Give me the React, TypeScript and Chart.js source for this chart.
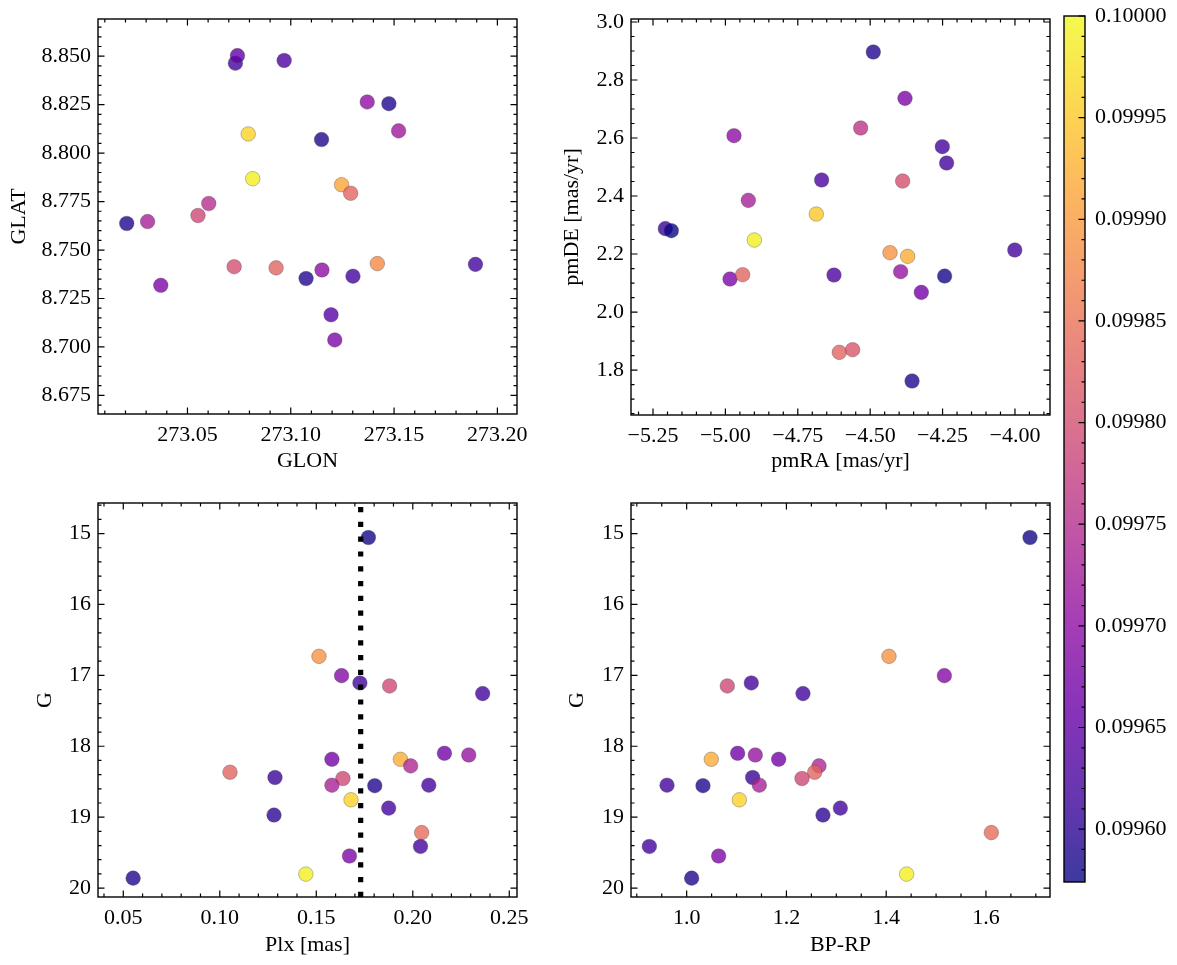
import React, { useEffect, useRef } from "react";
import { Chart, registerables } from "chart.js";

Chart.register(...registerables);

const FONT_FAMILY = "'Liberation Serif', 'DejaVu Serif', serif";
const FONT_SIZE = 22;
Chart.defaults.font.family = FONT_FAMILY;
Chart.defaults.font.size = FONT_SIZE;
Chart.defaults.color = "#000";

// ---- Top-left panel: Galactic coordinates ----
const glon = [
  273.0206, 273.0307, 273.0371, 273.0551, 273.0603, 273.0726, 273.0732, 273.0742,
  273.0794, 273.0816, 273.0929, 273.0968, 273.1074, 273.1149, 273.1151, 273.1195,
  273.1213, 273.1246, 273.129, 273.1301, 273.137, 273.1419, 273.1475, 273.1522, 273.1894,
];
const glat = [
  8.7637, 8.7647, 8.7318, 8.7678, 8.774, 8.7414, 8.8464, 8.8503,
  8.8099, 8.7868, 8.7408, 8.8478, 8.7353, 8.807, 8.7397, 8.7166,
  8.7036, 8.7837, 8.7793, 8.7365, 8.8264, 8.743, 8.8255, 8.8115, 8.7426,
];
const probPos = [
  0.09959, 0.09973, 0.09968, 0.09979, 0.09975, 0.0998, 0.09962, 0.09965,
  0.09996, 0.09999, 0.09983, 0.09963, 0.09959, 0.09959, 0.0997, 0.09964,
  0.09968, 0.09991, 0.09983, 0.09962, 0.0997, 0.09988, 0.09959, 0.09972, 0.09962,
];

// ---- Top-right panel: proper motions ----
const pmra = [
  -5.2074, -5.1867, -4.9841, -4.9703, -4.9404, -4.9208, -4.9001, -4.686,
  -4.6676, -4.625, -4.6066, -4.5606, -4.5329, -4.4892, -4.4316, -4.3948,
  -4.3879, -4.3798, -4.3706, -4.3234, -4.2509, -4.2429, -4.236, -4.3554, -4.0006,
];
const pmde = [
  2.2874, 2.2805, 2.1138, 2.608, 2.1287, 2.3851, 2.2483, 2.3379,
  2.4552, 2.1276, 1.8609, 1.8701, 2.6345, 2.8966, 2.2046, 2.1391,
  2.4517, 2.7368, 2.192, 2.0678, 2.5701, 2.1241, 2.5138, 1.7621, 2.2138,
];
const probPm = [
  0.09961, 0.09957, 0.09968, 0.0997, 0.09983, 0.09973, 0.09999, 0.09995,
  0.09963, 0.09963, 0.09983, 0.09981, 0.09976, 0.09959, 0.09989, 0.09971,
  0.0998, 0.09968, 0.09992, 0.09967, 0.09962, 0.09958, 0.09962, 0.09959, 0.09962,
];

// ---- Bottom panels: same stars (G, parallax, colour) ----
const gmag = [
  15.056, 16.732, 17.004, 17.107, 17.149, 17.257, 18.099, 18.123, 18.184, 18.184,
  18.277, 18.366, 18.441, 18.455, 18.549, 18.556, 18.549, 18.755, 18.872, 18.97,
  19.218, 19.413, 19.548, 19.803, 19.86,
];
const plx = [
  0.177, 0.1514, 0.1631, 0.1726, 0.188, 0.2362, 0.2164, 0.229, 0.1581, 0.1936,
  0.1989, 0.1053, 0.1286, 0.1638, 0.1581, 0.1803, 0.2083, 0.168, 0.1875, 0.1281,
  0.2046, 0.204, 0.1672, 0.1446, 0.0551,
];
const bprp = [
  1.6883, 1.4056, 1.5166, 1.1296, 1.0815, 1.2332, 1.1022, 1.1376, 1.1844, 1.0494,
  1.2653, 1.2566, 1.1323, 1.2312, 1.1457, 1.0327, 0.9606, 1.1056, 1.3081, 1.2733,
  1.6108, 0.9252, 1.0641, 1.441, 1.01,
];
const probPhot = [
  0.09958, 0.09989, 0.09969, 0.09962, 0.09979, 0.09962, 0.09967, 0.09971, 0.09967, 0.09992,
  0.09974, 0.09983, 0.09961, 0.09979, 0.09973, 0.09959, 0.09962, 0.09996, 0.09962, 0.0996,
  0.09984, 0.09962, 0.09968, 0.09999, 0.09959,
];

const plxCut = 0.173;

// ---- ticks ----
const glonTicks = [273.05, 273.1, 273.15, 273.2];
const glatTicks = [8.675, 8.7, 8.725, 8.75, 8.775, 8.8, 8.825, 8.85];
const pmraTicks = [-5.25, -5.0, -4.75, -4.5, -4.25, -4.0];
const pmdeTicks = [1.8, 2.0, 2.2, 2.4, 2.6, 2.8, 3.0];
const plxTicks = [0.05, 0.1, 0.15, 0.2, 0.25];
const gTicks = [15, 16, 17, 18, 19, 20];
const bprpTicks = [1.0, 1.2, 1.4, 1.6];
const cbTicks = [0.0996, 0.09965, 0.0997, 0.09975, 0.0998, 0.09985, 0.0999, 0.09995, 0.1];

const V_MIN = 0.099574;
const V_MAX = 0.1;

const PLASMA = [
  [13, 8, 135], [65, 4, 157], [106, 0, 168], [143, 13, 164], [177, 42, 144],
  [204, 71, 120], [225, 100, 98], [242, 132, 75], [252, 166, 54], [252, 206, 37], [240, 249, 33],
];

function plasmaRGB(t: number) {
  t = Math.min(1, Math.max(0, t));
  const s = t * (PLASMA.length - 1);
  const i = Math.min(PLASMA.length - 2, Math.floor(s));
  const f = s - i;
  const a = PLASMA[i], b = PLASMA[i + 1];
  return a.map((c, k) => Math.round(c + (b[k] - c) * f));
}
function probColor(v: number, alpha = 0.8) {
  const [r, g, b] = plasmaRGB((v - V_MIN) / (V_MAX - V_MIN));
  return `rgba(${r},${g},${b},${alpha})`;
}

const MAJ = 6.5;
const MIN_LEN = 3.5;

function minorValues(min: number, max: number, step: number, majors: number[]) {
  const out: number[] = [];
  const start = Math.ceil(min / step - 1e-7);
  const end = Math.floor(max / step + 1e-7);
  for (let k = start; k <= end; k++) {
    const v = k * step;
    if (majors.some((m) => Math.abs(m - v) < step * 1e-3)) continue;
    out.push(v);
  }
  return out;
}

const font = { family: FONT_FAMILY, size: FONT_SIZE };

type Spec = {
  x0: number; y0: number; w: number; h: number;
  pad: { left: number; top: number; right: number; bottom: number };
  yW: number; xH: number;
  xs: number[]; ys: number[]; cs: number[];
  xMin: number; xMax: number; yMin: number; yMax: number; yReverse?: boolean;
  xTicks: number[]; yTicks: number[]; xMinor: number; yMinor: number;
  xFmt: (v: number) => string; yFmt: (v: number) => string;
  xTitle: string; yTitle: string; xTitlePad: number; yTitlePad: number;
  vline?: number;
};

function makeFramePlugin(spec: Spec) {
  return {
    id: "frame",
    afterDatasetsDraw(chart: any) {
      if (spec.vline == null) return;
      const { ctx, chartArea: a } = chart;
      const px = chart.scales.x.getPixelForValue(spec.vline);
      ctx.save();
      ctx.strokeStyle = "#000";
      ctx.lineWidth = 5.2;
      ctx.lineCap = "butt";
      ctx.setLineDash([5.2, 9.6]);
      ctx.beginPath();
      ctx.moveTo(px, a.bottom);
      ctx.lineTo(px, a.top);
      ctx.stroke();
      ctx.restore();
    },
    afterDraw(chart: any) {
      const { ctx, chartArea: a } = chart;
      const xs = chart.scales.x, ys = chart.scales.y;
      ctx.save();
      ctx.strokeStyle = "#000";
      ctx.lineWidth = 1.2;
      ctx.beginPath();
      const xMinors = minorValues(spec.xMin, spec.xMax, spec.xMinor, spec.xTicks);
      const yMinors = minorValues(spec.yMin, spec.yMax, spec.yMinor, spec.yTicks);
      const drawX = (v: number, len: number) => {
        const px = xs.getPixelForValue(v);
        if (px < a.left - 0.5 || px > a.right + 0.5) return;
        ctx.moveTo(px, a.bottom); ctx.lineTo(px, a.bottom - len);
        ctx.moveTo(px, a.top); ctx.lineTo(px, a.top + len);
      };
      const drawY = (v: number, len: number) => {
        const py = ys.getPixelForValue(v);
        if (py < a.top - 0.5 || py > a.bottom + 0.5) return;
        ctx.moveTo(a.left, py); ctx.lineTo(a.left + len, py);
        ctx.moveTo(a.right, py); ctx.lineTo(a.right - len, py);
      };
      spec.xTicks.forEach((v) => drawX(v, MAJ));
      xMinors.forEach((v) => drawX(v, MIN_LEN));
      spec.yTicks.forEach((v) => drawY(v, MAJ));
      yMinors.forEach((v) => drawY(v, MIN_LEN));
      ctx.stroke();
      ctx.lineWidth = 1.4;
      ctx.strokeRect(a.left, a.top, a.right - a.left, a.bottom - a.top);
      ctx.restore();
    },
  };
}

function buildConfig(spec: Spec): any {
  return {
    type: "scatter",
    data: {
      datasets: [
        {
          data: spec.xs.map((x, i) => ({ x, y: spec.ys[i] })),
          backgroundColor: spec.cs.map((c) => probColor(c)),
          borderColor: "rgba(60,60,60,0.55)",
          borderWidth: 0.6,
          pointRadius: 7.3,
          pointHoverRadius: 7.3,
        },
      ],
    },
    options: {
      responsive: false,
      maintainAspectRatio: false,
      animation: false,
      events: [],
      layout: { padding: spec.pad },
      plugins: { legend: { display: false }, tooltip: { enabled: false } },
      scales: {
        x: {
          type: "linear",
          position: "bottom",
          min: spec.xMin,
          max: spec.xMax,
          grid: { display: false, drawTicks: false },
          border: { display: false },
          ticks: {
            color: "#000",
            font,
            padding: 8,
            maxRotation: 0,
            minRotation: 0,
            autoSkip: false,
            callback: (v: any) => spec.xFmt(Number(v)),
          },
          title: {
            display: true,
            text: spec.xTitle,
            color: "#000",
            font,
            padding: { top: 0, bottom: spec.xTitlePad },
          },
          afterBuildTicks: (s: any) => {
            s.ticks = spec.xTicks.map((v) => ({ value: v }));
          },
          afterFit: (s: any) => {
            s.height = spec.xH;
            s.paddingLeft = 0;
            s.paddingRight = 0;
          },
        },
        y: {
          type: "linear",
          position: "left",
          min: spec.yMin,
          max: spec.yMax,
          reverse: !!spec.yReverse,
          grid: { display: false, drawTicks: false },
          border: { display: false },
          ticks: {
            color: "#000",
            font,
            padding: 7,
            autoSkip: false,
            callback: (v: any) => spec.yFmt(Number(v)),
          },
          title: {
            display: true,
            text: spec.yTitle,
            color: "#000",
            font,
            padding: { top: spec.yTitlePad, bottom: 0 },
          },
          afterBuildTicks: (s: any) => {
            s.ticks = spec.yTicks.map((v) => ({ value: v }));
          },
          afterFit: (s: any) => {
            s.width = spec.yW;
            s.paddingTop = 0;
            s.paddingBottom = 0;
          },
        },
      },
    },
    plugins: [makeFramePlugin(spec)],
  };
}

const minus = (s: string) => s.replace("-", "\u2212");

const specs: Spec[] = [
  {
    x0: 0, y0: 0, w: 560, h: 485,
    pad: { left: 0, top: 19, right: 43, bottom: 0 }, yW: 98, xH: 71,
    xs: glon, ys: glat, cs: probPos,
    xMin: 273.0067, xMax: 273.2095, yMin: 8.6654, yMax: 8.8692,
    xTicks: glonTicks, yTicks: glatTicks, xMinor: 0.01, yMinor: 0.005,
    xFmt: (v) => v.toFixed(2), yFmt: (v) => v.toFixed(3),
    xTitle: "GLON", yTitle: "GLAT", xTitlePad: 10.8, yTitlePad: 6,
  },
  {
    x0: 533, y0: 0, w: 560, h: 485,
    pad: { left: 0, top: 19, right: 43, bottom: 0 }, yW: 98, xH: 70,
    xs: pmra, ys: pmde, cs: probPm,
    xMin: -5.326, xMax: -3.879, yMin: 1.645, yMax: 3.0103,
    xTicks: pmraTicks, yTicks: pmdeTicks, xMinor: 0.05, yMinor: 0.05,
    xFmt: (v) => minus(v.toFixed(2)), yFmt: (v) => v.toFixed(1),
    xTitle: "pmRA [mas/yr]", yTitle: "pmDE [mas/yr]", xTitlePad: 10.8, yTitlePad: 26.3,
  },
  {
    x0: 0, y0: 485, w: 560, h: 480,
    pad: { left: 0, top: 18, right: 43, bottom: 0 }, yW: 98, xH: 68,
    xs: plx, ys: gmag, cs: probPhot,
    xMin: 0.0369, xMax: 0.254, yMin: 14.569, yMax: 20.126, yReverse: true,
    xTicks: plxTicks, yTicks: gTicks, xMinor: 0.01, yMinor: 0.2,
    xFmt: (v) => v.toFixed(2), yFmt: (v) => v.toFixed(0),
    xTitle: "Plx [mas]", yTitle: "G", xTitlePad: 6.8, yTitlePad: 32.5,
    vline: plxCut,
  },
  {
    x0: 533, y0: 485, w: 560, h: 480,
    pad: { left: 0, top: 18, right: 43, bottom: 0 }, yW: 98, xH: 68,
    xs: bprp, ys: gmag, cs: probPhot,
    xMin: 0.8884, xMax: 1.7284, yMin: 14.569, yMax: 20.126, yReverse: true,
    xTicks: bprpTicks, yTicks: gTicks, xMinor: 0.05, yMinor: 0.2,
    xFmt: (v) => v.toFixed(1), yFmt: (v) => v.toFixed(0),
    xTitle: "BP-RP", yTitle: "G", xTitlePad: 6.8, yTitlePad: 31.5,
  },
];

function Panel({ spec }: { spec: Spec }) {
  const ref = useRef<HTMLCanvasElement>(null);
  useEffect(() => {
    const chart = new Chart(ref.current as HTMLCanvasElement, buildConfig(spec));
    return () => chart.destroy();
  }, [spec]);
  return (
    <canvas
      ref={ref}
      width={spec.w}
      height={spec.h}
      style={{ position: "absolute", left: spec.x0, top: spec.y0, width: spec.w, height: spec.h }}
    />
  );
}

const colorbarPlugin = {
  id: "colorbar",
  beforeDatasetsDraw(chart: any) {
    const { ctx, chartArea: a } = chart;
    const grad = ctx.createLinearGradient(0, a.bottom, 0, a.top);
    PLASMA.forEach((c, i) => {
      grad.addColorStop(i / (PLASMA.length - 1), `rgba(${c[0]},${c[1]},${c[2]},0.8)`);
    });
    ctx.save();
    ctx.fillStyle = grad;
    ctx.fillRect(a.left, a.top, a.right - a.left, a.bottom - a.top);
    ctx.restore();
  },
  afterDraw(chart: any) {
    const { ctx, chartArea: a } = chart;
    const ys = chart.scales.y;
    ctx.save();
    ctx.strokeStyle = "#000";
    ctx.lineWidth = 1.2;
    ctx.beginPath();
    const minors = minorValues(V_MIN, V_MAX, 0.00001, cbTicks);
    const draw = (v: number, len: number) => {
      const py = ys.getPixelForValue(v);
      if (py < a.top - 0.5 || py > a.bottom + 0.5) return;
      ctx.moveTo(a.right, py);
      ctx.lineTo(a.right - len, py);
    };
    cbTicks.forEach((v) => draw(v, MAJ));
    minors.forEach((v) => draw(v, MIN_LEN));
    ctx.stroke();
    ctx.lineWidth = 1.4;
    ctx.strokeRect(a.left, a.top, a.right - a.left, a.bottom - a.top);
    ctx.restore();
  },
};

function Colorbar() {
  const ref = useRef<HTMLCanvasElement>(null);
  useEffect(() => {
    const chart = new Chart(ref.current as HTMLCanvasElement, {
      type: "scatter",
      data: { datasets: [] },
      options: {
        responsive: false,
        maintainAspectRatio: false,
        animation: false,
        events: [],
        layout: { padding: { left: 9, top: 16, right: 0, bottom: 83 } },
        plugins: { legend: { display: false }, tooltip: { enabled: false } },
        scales: {
          x: { type: "linear", display: false, min: 0, max: 1 },
          y: {
            type: "linear",
            position: "right",
            min: V_MIN,
            max: V_MAX,
            grid: { display: false, drawTicks: false },
            border: { display: false },
            ticks: {
              color: "#000",
              font,
              padding: 10,
              autoSkip: false,
              callback: (v: any) => Number(v).toFixed(5),
            },
            afterBuildTicks: (s: any) => {
              s.ticks = cbTicks.map((v) => ({ value: v }));
            },
            afterFit: (s: any) => {
              s.width = 92;
              s.paddingTop = 0;
              s.paddingBottom = 0;
            },
          },
        },
      } as any,
      plugins: [colorbarPlugin as any],
    });
    return () => chart.destroy();
  }, []);
  return (
    <canvas
      ref={ref}
      width={122}
      height={965}
      style={{ position: "absolute", left: 1055, top: 0, width: 122, height: 965 }}
    />
  );
}

export default function App() {
  return (
    <div
      style={{
        position: "absolute",
        left: 0,
        top: 0,
        width: 1177,
        height: 965,
        background: "#fff",
        overflow: "hidden",
      }}
    >
      {specs.map((s, i) => (
        <Panel key={i} spec={s} />
      ))}
      <Colorbar />
    </div>
  );
}
